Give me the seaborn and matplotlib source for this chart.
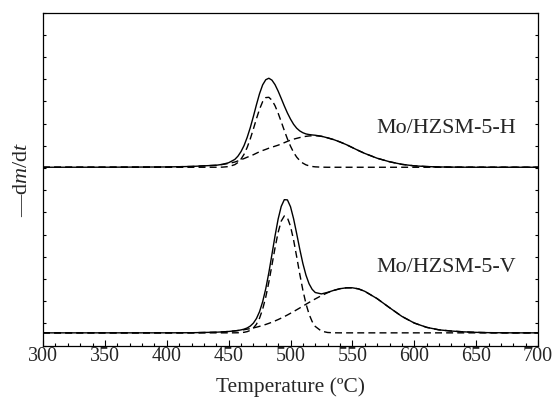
import numpy as np
import pandas as pd
import matplotlib
matplotlib.use("Agg")
import matplotlib.pyplot as plt
import seaborn as sns
from matplotlib.ticker import MultipleLocator, FixedLocator

# ---- data ----
temperature = [300, 350, 400, 420, 440, 445, 450, 455, 457.5, 460, 462.5, 465, 467.5,
               470, 472.5, 475, 477.5, 480, 482.5, 485, 487.5, 490, 492.5, 495, 497.5,
               500, 502.5, 505, 507.5, 510, 512.5, 515, 517.5, 520, 525, 530, 535, 540,
               545, 550, 555, 560, 570, 580, 590, 600, 610, 620, 630, 640, 650, 660,
               680, 700]

# Mo/HZSM-5-H : measured curve and its two fitted components
h_total = [0, 0.05, 0.3, 0.8, 2.0, 2.9, 4.5, 7.8, 11.0, 15.6, 21.7, 29.8, 39.5,
           50.6, 62.4, 73.4, 82.1, 87.2, 88.7, 86.8, 82.3, 75.9, 68.6, 61.1, 54.1,
           48.0, 42.8, 38.9, 36.2, 34.4, 33.2, 32.6, 32.2, 31.9, 30.9, 29.3, 27.5, 25.2,
           22.6, 19.6, 16.6, 13.8, 9.0, 5.5, 2.9, 1.4, 0.7, 0.3, 0.15, 0.05, 0, 0,
           0, 0]
h_low = [0, 0, 0, 0, 0.02, 0.13, 0.66, 2.6, 4.7, 8.1, 13.0, 19.8, 28.3,
         38.1, 48.4, 57.9, 65.4, 69.4, 69.7, 66.8, 61.3, 53.9, 45.4, 36.6, 28.3,
         21.0, 14.8, 10.1, 6.6, 4.1, 2.4, 1.4, 0.76, 0.4, 0.1, 0, 0, 0,
         0, 0, 0, 0, 0, 0, 0, 0, 0, 0, 0, 0, 0, 0,
         0, 0]
h_high = [0, 0.05, 0.3, 0.8, 2.0, 2.8, 3.8, 5.2, 6.3, 7.5, 8.7, 10.0, 11.2,
          12.5, 14.0, 15.5, 16.7, 17.8, 19.0, 20.0, 21.0, 22.0, 23.2, 24.5, 25.8,
          27.0, 28.0, 28.8, 29.6, 30.3, 30.8, 31.2, 31.4, 31.5, 30.8, 29.3, 27.5, 25.2,
          22.6, 19.6, 16.6, 13.8, 9.0, 5.5, 2.9, 1.4, 0.7, 0.3, 0.15, 0.05, 0, 0,
          0, 0]

# Mo/HZSM-5-V : measured curve and its two fitted components
v_total = [0, 0, 0.02, 0.12, 0.65, 0.95, 1.37, 1.98, 2.39, 2.93, 3.71, 4.89, 6.74,
           9.70, 14.31, 21.18, 30.99, 43.97, 59.95, 78.12, 96.59, 113.34, 125.98, 132.7, 132.5,
           125.7, 113.7, 98.8, 83.3, 69.1, 57.5, 48.9, 43.35, 40.2, 38.8, 40.36, 42.36, 44.0,
           44.85, 44.9, 43.8, 41.4, 34.1, 25.1, 16.4, 9.8, 5.5, 3.0, 1.8, 1.0, 0.5, 0.2,
           0, 0]
v_low = [0, 0, 0, 0, 0, 0, 0, 0.04, 0.1, 0.24, 0.56, 1.21, 2.48,
         4.78, 8.65, 14.7, 23.6, 35.6, 50.5, 67.5, 84.7, 100.1, 111.3, 116.5, 114.7,
         106.2, 92.5, 75.8, 58.5, 42.5, 29.0, 18.6, 11.25, 6.4, 1.7, 0.36, 0.06, 0,
         0, 0, 0, 0, 0, 0, 0, 0, 0, 0, 0, 0, 0, 0,
         0, 0]
v_high = [0, 0, 0.02, 0.12, 0.65, 0.95, 1.37, 1.94, 2.29, 2.69, 3.15, 3.68, 4.26,
          4.92, 5.66, 6.48, 7.39, 8.37, 9.45, 10.62, 11.89, 13.24, 14.68, 16.2, 17.8,
          19.5, 21.2, 23.0, 24.8, 26.6, 28.5, 30.3, 32.1, 33.8, 37.1, 40.0, 42.3, 44.0,
          44.85, 44.9, 43.8, 41.4, 34.1, 25.1, 16.4, 9.8, 5.5, 3.0, 1.8, 1.0, 0.5, 0.2,
          0, 0]

h_offset = 165.0          # vertical stacking of the H curve above the V curve
sample_labels = ["Mo/HZSM-5-H", "Mo/HZSM-5-V"]
x_major = 50
x_minor = 10

# ---- style ----
sns.set_style("ticks")
plt.rcParams["font.family"] = ["Liberation Serif", "DejaVu Serif"]
plt.rcParams["mathtext.fontset"] = "custom"
plt.rcParams["mathtext.rm"] = "Liberation Serif"
plt.rcParams["mathtext.it"] = "Liberation Serif:italic"

fig = plt.figure(figsize=(5.54, 4.01), dpi=100)
ax = fig.add_axes([43 / 554, 1 - 345.5 / 401, (538 - 43) / 554, (345.5 - 12.7) / 401])

t = np.array(temperature)
curves = [
    (np.array(h_total) + h_offset, "-"),
    (np.array(h_low) + h_offset, "--"),
    (np.array(h_high) + h_offset, "--"),
    (np.array(v_total), "-"),
    (np.array(v_low), "--"),
    (np.array(v_high), "--"),
]
for y, ls in curves:
    line_kw = dict(color="black", linewidth=1.0)
    if ls == "--":
        line_kw["dashes"] = (5, 3)
    sns.lineplot(x=t, y=y, ax=ax, estimator=None, sort=False, **line_kw)

ax.set_xlim(300, 700)
ylo, yhi = -12.6, 319.0
ax.set_ylim(ylo, yhi)

ax.xaxis.set_major_locator(MultipleLocator(x_major))
ax.xaxis.set_minor_locator(MultipleLocator(x_minor))
ax.yaxis.set_major_locator(FixedLocator(np.linspace(ylo, yhi, 16)))
ax.tick_params(axis="x", which="major", direction="in", length=4.5, width=0.8,
               labelsize=14.4, pad=1.0, top=False, bottom=True, color="black")
ax.tick_params(axis="x", which="minor", direction="in", length=2.4, width=0.8,
               top=False, bottom=True, color="black")
ax.tick_params(axis="y", which="major", direction="in", length=2.4, width=0.8,
               left=True, right=True, labelleft=False, color="black")
ax.tick_params(axis="y", which="minor", left=False, right=False)

for sp in ax.spines.values():
    sp.set_visible(True)
    sp.set_color("black")
    sp.set_linewidth(0.9)

ax.set_xlabel("Temperature (ºC)", fontsize=15.4, labelpad=8)
ax.set_ylabel("—d$m$/d$t$", fontsize=16, labelpad=8)

ax.text(626, 203.7, sample_labels[0], fontsize=15.8, ha="center", va="center")
ax.text(626, 65.0, sample_labels[1], fontsize=15.8, ha="center", va="center")

fig.savefig("out.png", dpi=100)
